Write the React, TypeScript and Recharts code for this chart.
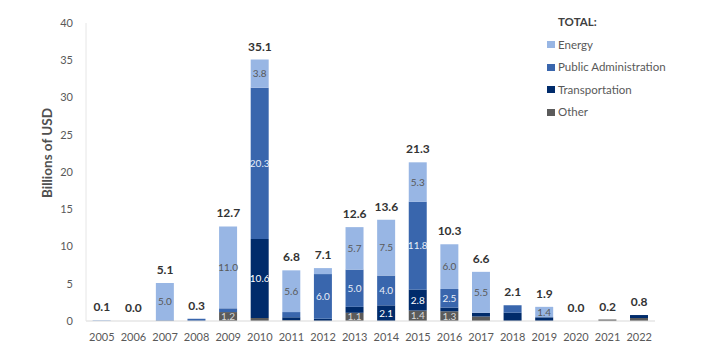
import { ComposedChart, Bar, Line, XAxis, YAxis, LabelList } from "recharts";

// Sector breakdown per year, billions of USD
const years = ["2005", "2006", "2007", "2008", "2009", "2010", "2011", "2012", "2013", "2014", "2015", "2016", "2017", "2018", "2019", "2020", "2021", "2022"];
const other = [0, 0, 0, 0, 1.2, 0.4, 0.1, 0, 1.1, 0, 1.4, 1.3, 0.6, 0, 0, 0, 0.2, 0.4];
const transportation = [0, 0, 0, 0, 0, 10.6, 0.4, 0.3, 0.8, 2.1, 2.8, 0.5, 0.5, 1.1, 0.5, 0, 0, 0.4];
const publicAdmin = [0, 0, 0.1, 0.3, 0.5, 20.3, 0.7, 6.0, 5.0, 4.0, 11.8, 2.5, 0, 1.0, 0, 0, 0, 0];
const energy = [0.1, 0, 5.0, 0, 11.0, 3.8, 5.6, 0.8, 5.7, 7.5, 5.3, 6.0, 5.5, 0, 1.4, 0, 0, 0];
const totals = [0.1, 0.0, 5.1, 0.3, 12.7, 35.1, 6.8, 7.1, 12.6, 13.6, 21.3, 10.3, 6.6, 2.1, 1.9, 0.0, 0.2, 0.8];
const yTicks = [0, 5, 10, 15, 20, 25, 30, 35, 40];
// segments big enough to carry a value label in the original
const minLabel = 1.1;
const unlabelled = ["2018"];

const series = [
  { key: "other", name: "Other", color: "#5B5B5B", text: "#D9D9D9", values: other },
  { key: "transportation", name: "Transportation", color: "#002B6B", text: "#FFFFFF", values: transportation },
  { key: "publicAdmin", name: "Public Administration", color: "#3966AD", text: "#E8EEF8", values: publicAdmin },
  { key: "energy", name: "Energy", color: "#98B6E4", text: "#595959", values: energy },
];

const data = years.map((year, i) => {
  const row: any = { year, total: totals[i] };
  series.forEach((s) => {
    const v = s.values[i];
    row[s.key] = v;
    row[s.key + "Label"] = v >= minLabel && !unlabelled.includes(year) ? v : null;
  });
  return row;
});

const FONT = "Lato, 'Open Sans', sans-serif";

const segmentLabel = (color: string) => (props: any) => {
  const { x, y, width, height, value } = props;
  if (value == null) return null;
  return (
    <text x={x + width / 2} y={y + height / 2} dy={3.5} textAnchor="middle" fontSize={10} fill={color} fontFamily={FONT}>
      {Number(value).toFixed(1)}
    </text>
  );
};

const totalLabel = (props: any) => {
  const { x, y, value } = props;
  return (
    <text x={x} y={y - 9} textAnchor="middle" fontSize={12} fontWeight={700} fill="#333333" fontFamily={FONT}>
      {Number(value).toFixed(1)}
    </text>
  );
};

const legendOrder = ["energy", "publicAdmin", "transportation", "other"];

const LegendBox = () => (
  <div style={{ position: "absolute", left: 547, top: 11, fontFamily: FONT, fontSize: 11.5, color: "#595959", lineHeight: "22.5px" }}>
    <div style={{ fontWeight: 700, color: "#404040", marginLeft: 11, height: 22.5 }}>TOTAL:</div>
    {legendOrder.map((k) => {
      const s = series.find((d) => d.key === k)!;
      return (
        <div key={k} style={{ display: "flex", alignItems: "center", height: 22.5 }}>
          <span style={{ width: 8, height: 7, background: s.color, marginRight: 3, display: "inline-block" }} />
          {s.name}
        </div>
      );
    })}
  </div>
);

export default function App() {
  return (
    <div style={{ position: "absolute", left: 0, top: 0, width: 713, height: 353, background: "#fff" }}>
      <ComposedChart
        width={713}
        height={353}
        data={data}
        margin={{ top: 23, right: 58, bottom: 0, left: 26 }}
        barCategoryGap="21%"
      >
        <XAxis
          dataKey="year"
          axisLine={{ stroke: "#D9D9D9" }}
          tickLine={false}
          tickSize={0}
          tickMargin={12}
          height={32}
          interval={0}
          tick={{ fontSize: 11, fill: "#595959", fontFamily: FONT }}
        />
        <YAxis
          domain={[0, 40]}
          ticks={yTicks}
          width={60}
          axisLine={{ stroke: "#E6E6E6" }}
          tickLine={false}
          tickSize={0}
          tickMargin={13}
          tick={{ fontSize: 11, fill: "#595959", fontFamily: FONT }}
          label={{
            value: "Billions of USD",
            angle: -90,
            position: "insideLeft",
            offset: 21,
            dy: -19,
            style: { fontSize: 13.5, fontWeight: 700, fill: "#505050", fontFamily: FONT, textAnchor: "middle" },
          }}
        />
        {series.map((s) => (
          <Bar key={s.key} dataKey={s.key} name={s.name} stackId="a" fill={s.color} isAnimationActive={false}>
            <LabelList dataKey={s.key + "Label"} content={segmentLabel(s.text)} />
          </Bar>
        ))}
        <Line dataKey="total" stroke="none" dot={false} activeDot={false} isAnimationActive={false}>
          <LabelList dataKey="total" content={totalLabel} />
        </Line>
      </ComposedChart>
      <LegendBox />
    </div>
  );
}
